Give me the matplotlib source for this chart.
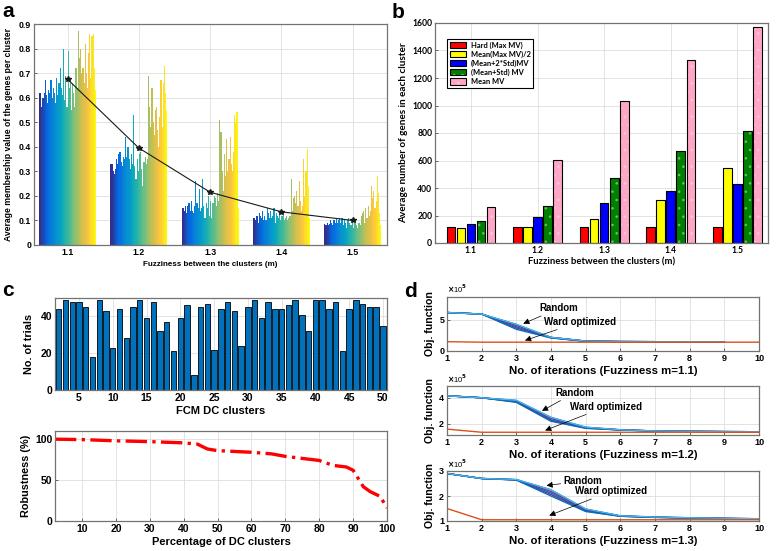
############################## IMPORTS ##############################
import matplotlib
matplotlib.use("Agg")
import matplotlib.pyplot as plt
import numpy as np
from matplotlib.colors import LinearSegmentedColormap
from matplotlib.legend_handler import HandlerTuple
################################ FIN ################################

############################# DATA SETUP #############################
## Panel a: average membership value per cluster (50 clusters per fuzziness)
fuzz = [1.1, 1.2, 1.3, 1.4, 1.5]
mv_11 = [0.62, 0.62, 0.56, 0.60, 0.62, 0.67, 0.61, 0.58, 0.63, 0.62,
         0.67, 0.60, 0.64, 0.62, 0.58, 0.68, 0.61, 0.66, 0.72, 0.64,
         0.61, 0.80, 0.59, 0.69, 0.56, 0.79, 0.64, 0.66, 0.55, 0.66,
         0.62, 0.56, 0.72, 0.64, 0.87, 0.76, 0.80, 0.70, 0.72, 0.66,
         0.82, 0.70, 0.64, 0.78, 0.86, 0.68, 0.85, 0.86, 0.72, 0.63]
mv_12 = [0.33, 0.33, 0.30, 0.29, 0.31, 0.35, 0.33, 0.37, 0.38, 0.34,
         0.32, 0.36, 0.35, 0.44, 0.36, 0.40, 0.35, 0.31, 0.37, 0.33,
         0.53, 0.32, 0.27, 0.35, 0.30, 0.37, 0.38, 0.31, 0.24, 0.34,
         0.36, 0.33, 0.35, 0.69, 0.56, 0.48, 0.64, 0.50, 0.45, 0.55,
         0.56, 0.47, 0.40, 0.52, 0.67, 0.48, 0.66, 0.73, 0.62, 0.55]
mv_13 = [0.15, 0.15, 0.14, 0.16, 0.13, 0.16, 0.17, 0.14, 0.18, 0.14,
         0.13, 0.16, 0.26, 0.17, 0.15, 0.23, 0.14, 0.15, 0.27, 0.16,
         0.11, 0.17, 0.15, 0.20, 0.12, 0.18, 0.11, 0.17, 0.20, 0.19,
         0.16, 0.21, 0.18, 0.51, 0.46, 0.30, 0.22, 0.37, 0.28, 0.43,
         0.30, 0.35, 0.44, 0.33, 0.30, 0.38, 0.53, 0.50, 0.54, 0.15]
mv_14 = [0.11, 0.11, 0.10, 0.12, 0.09, 0.13, 0.12, 0.11, 0.14, 0.10,
         0.12, 0.10, 0.15, 0.13, 0.11, 0.14, 0.11, 0.12, 0.15, 0.09,
         0.13, 0.12, 0.11, 0.14, 0.10, 0.12, 0.13, 0.10, 0.11, 0.12,
         0.10, 0.11, 0.12, 0.27, 0.14, 0.19, 0.20, 0.17, 0.22, 0.16,
         0.26, 0.18, 0.14, 0.16, 0.35, 0.20, 0.30, 0.39, 0.24, 0.11]
mv_15 = [0.085, 0.08, 0.09, 0.08, 0.085, 0.10, 0.09, 0.08, 0.10, 0.09,
         0.11, 0.09, 0.10, 0.11, 0.09, 0.11, 0.08, 0.10, 0.09, 0.07,
         0.10, 0.11, 0.09, 0.08, 0.10, 0.07, 0.09, 0.10, 0.08, 0.07,
         0.09, 0.08, 0.12, 0.13, 0.14, 0.09, 0.15, 0.11, 0.16, 0.12,
         0.14, 0.24, 0.19, 0.22, 0.15, 0.18, 0.28, 0.21, 0.13, 0.08]
mv_groups = [mv_11, mv_12, mv_13, mv_14, mv_15]
mv_mean = [0.675, 0.395, 0.215, 0.135, 0.10]

## Panel b: average number of genes in each cluster
b_ticks = ["1.1", "1.2", "1.3", "1.4", "1.5"]
b_names = ["Hard (Max MV)", "Mean(Max MV)/2", "(Mean+2*Std)MV", "(Mean+Std) MV", "Mean MV"]
hard_mv = [115, 115, 115, 115, 115]
half_max_mv = [110, 118, 175, 312, 548]
mean_2std_mv = [140, 192, 290, 380, 428]
mean_std_mv = [162, 268, 475, 672, 812]
mean_mv = [262, 603, 1035, 1330, 1568]
b_series = [hard_mv, half_max_mv, mean_2std_mv, mean_std_mv, mean_mv]

## Panel c: robustness of the FCM DC clusters
dc_clusters = list(range(2, 51))
trials = [44, 49, 48, 48, 45, 18, 49, 43, 23, 44, 28, 45, 49, 39, 48, 32, 37,
          21, 39, 46, 8, 45, 47, 22, 44, 48, 43, 24, 45, 49, 39, 48, 44, 44,
          46, 49, 41, 32, 49, 49, 44, 48, 21, 44, 49, 47, 45, 45, 35]
rob_pct = [2, 10, 20, 30, 40, 44, 47, 50, 60, 66, 70, 80, 84, 88, 90, 93, 95, 98, 100]
rob_val = [100, 99.5, 98, 97, 95.5, 94, 88, 86, 84, 82, 79, 74, 68, 66, 62, 42, 36, 30, 16]

## Panel d: objective function (x 1e5) per iteration
iters = [1, 2, 3, 4, 5, 6, 7, 8, 9, 10]
rand_11 = [[6.2, 5.95, 4.3, 2.2, 1.6, 1.52, 1.5, 1.49, 1.48],
           [6.2, 5.95, 4.1, 2.2, 1.6, 1.52, 1.5, 1.49, 1.48],
           [6.2, 5.95, 3.9, 2.15, 1.58, 1.52, 1.5, 1.49, 1.48],
           [6.2, 5.95, 3.7, 2.15, 1.58, 1.52, 1.5, 1.49, 1.48],
           [6.2, 5.95, 3.5, 2.1, 1.55, 1.52, 1.5, 1.49, 1.48]]
ward_11 = [1.5, 1.42, 1.42, 1.42, 1.42, 1.42, 1.42, 1.42, 1.42, 1.42]
rand_12 = [[4.15, 4.0, 3.8, 2.5, 1.75, 1.55, 1.46, 1.43, 1.41, 1.40],
           [4.15, 4.0, 3.75, 2.4, 1.72, 1.55, 1.46, 1.43, 1.41, 1.40],
           [4.15, 4.0, 3.72, 2.3, 1.7, 1.54, 1.46, 1.43, 1.41, 1.40],
           [4.15, 4.0, 3.68, 2.25, 1.68, 1.54, 1.45, 1.43, 1.41, 1.40],
           [4.15, 4.0, 3.65, 2.2, 1.66, 1.53, 1.45, 1.42, 1.41, 1.40]]
ward_12 = [1.6, 1.36, 1.36, 1.36, 1.36, 1.36, 1.36, 1.36, 1.36, 1.36]
rand_13 = [[2.9, 2.7, 2.66, 2.25, 1.48, 1.21, 1.16, 1.13, 1.11, 1.09],
           [2.9, 2.7, 2.65, 2.18, 1.45, 1.2, 1.15, 1.13, 1.11, 1.09],
           [2.9, 2.7, 2.65, 2.12, 1.42, 1.2, 1.15, 1.12, 1.1, 1.08],
           [2.9, 2.7, 2.64, 2.06, 1.4, 1.19, 1.15, 1.12, 1.1, 1.08],
           [2.9, 2.7, 2.64, 2.0, 1.38, 1.19, 1.14, 1.12, 1.09, 1.08]]
ward_13 = [1.5, 1.05, 1.05, 1.05, 1.05, 1.05, 1.05, 1.05, 1.05, 1.05]
################################ FIN ################################

############################ STYLE SETUP ############################
plt.rcParams["font.family"] = ["Liberation Sans", "DejaVu Sans"]
plt.rcParams["font.weight"] = "bold"
plt.rcParams["axes.labelweight"] = "bold"
plt.rcParams["hatch.linewidth"] = 0.6

# parula-like colormap (MATLAB default)
parula = LinearSegmentedColormap.from_list("parula", [
    (0.208, 0.166, 0.529), (0.02, 0.40, 0.88), (0.03, 0.53, 0.84),
    (0.02, 0.64, 0.77), (0.21, 0.72, 0.62), (0.51, 0.75, 0.47),
    (0.80, 0.75, 0.31), (0.99, 0.77, 0.24), (0.98, 0.98, 0.05)])
matlab_colors = [(0, 0.447, 0.741), (0.85, 0.325, 0.098), (0.929, 0.694, 0.125),
                 (0.494, 0.184, 0.556), (0.466, 0.674, 0.188), (0.301, 0.745, 0.933)]


def matlab_axes(ax, fsize):
    ax.grid(True, color="0.87", linewidth=0.6)
    ax.set_axisbelow(True)
    for s in ax.spines.values():
        s.set_color("0.45")
        s.set_linewidth(0.9)
    ax.tick_params(direction="in", length=2.5, width=0.6, color="0.3",
                   labelsize=fsize, pad=2, top=False, right=False)
    for t in ax.get_xticklabels() + ax.get_yticklabels():
        t.set_fontweight("bold")


fig = plt.figure(figsize=(7.77, 5.51), dpi=100)
W, H = 777.0, 551.0


def px_axes(left, top, right, bottom):
    return fig.add_axes([left / W, 1 - bottom / H, (right - left) / W, (bottom - top) / H])
################################ FIN ################################

############################## PANEL A ##############################
axA = px_axes(34, 24, 387, 245)
nbar = len(mv_11)
bw = 0.08 / nbar
cols = parula(np.linspace(0, 1, nbar))
for m, vals in zip(fuzz, mv_groups):
    xs = m - 0.04 + bw * (np.arange(nbar) + 0.5)
    axA.bar(xs, vals, width=bw * 1.02, color=cols, linewidth=0)
axA.plot(fuzz, mv_mean, color="0.1", linewidth=0.8, marker="*", markersize=4)
axA.set_xlim(1.053, 1.548)
axA.set_ylim(0, 0.9)
axA.set_xticks(fuzz)
axA.set_xticklabels(["1.1", "1.2", "1.3", "1.4", "1.5"])
yt = [0, 0.1, 0.2, 0.3, 0.4, 0.5, 0.6, 0.7, 0.8, 0.9]
axA.set_yticks(yt)
axA.set_yticklabels(["0" if v == 0 else "%.1f" % v for v in yt])
matlab_axes(axA, 6.3)
axA.set_xlabel("Fuzziness between the clusters (m)", fontsize=5.8, labelpad=3)
axA.set_ylabel("Average membership value of the genes per cluster", fontsize=6.2, labelpad=4)
################################ FIN ################################

############################## PANEL B ##############################
axB = px_axes(435, 23, 768, 243)
b_font = ["Lato", "DejaVu Sans"]
b_colors = [(1, 0, 0), (1, 1, 0), (0, 0, 1), (0, 0.5, 0), (1, 0.65, 0.78)]
b_dots = [None, None, None, (0.45, 0.72, 0.45), (0.97, 0.8, 0.88)]
xg = np.arange(1, 6)
handles = []
for i, (vals, c, d) in enumerate(zip(b_series, b_colors, b_dots)):
    xs = xg + (i - 2) * 0.151
    parts = [axB.bar(xs, vals, width=0.13, color=c, linewidth=0)[0]]
    if d is not None:
        parts.append(axB.bar(xs, vals, width=0.13, facecolor="none", edgecolor=d,
                             linewidth=0, hatch="..")[0])
    parts.append(axB.bar(xs, vals, width=0.13, facecolor="none", edgecolor="k",
                         linewidth=0.8)[0])
    handles.append(tuple(parts))
axB.set_xlim(0.46, 5.46)
axB.set_ylim(0, 1600)
axB.set_xticks(xg)
axB.set_xticklabels(b_ticks, family=b_font)
axB.set_yticks(range(0, 1601, 200))
axB.set_yticklabels([str(v) for v in range(0, 1601, 200)], family=b_font)
matlab_axes(axB, 6.2)
axB.set_xlabel("Fuzziness between the clusters (m)", fontsize=6.8, family=b_font, labelpad=2)
axB.set_ylabel("Average number of genes in each cluster", fontsize=7.2, family=b_font, labelpad=3)
leg = axB.legend(handles, b_names, loc="upper left", bbox_to_anchor=(0.025, 0.945),
                 prop={"family": b_font, "size": 5.4, "weight": "bold"},
                 handler_map={tuple: HandlerTuple(ndivide=1)},
                 frameon=True, fancybox=False, framealpha=1, borderpad=0.35,
                 labelspacing=0.25, handlelength=2.2, handleheight=0.9, handletextpad=0.6)
leg.get_frame().set_edgecolor("k")
leg.get_frame().set_linewidth(0.8)
################################ FIN ################################

############################## PANEL C ##############################
axC1 = px_axes(55, 298, 387, 390)
axC1.bar(dc_clusters, trials, width=0.8, color=(0, 0.447, 0.741), edgecolor="k", linewidth=0.6)
axC1.set_xlim(1.45, 50.6)
axC1.set_ylim(0, 50)
axC1.set_xticks(range(5, 51, 5))
axC1.set_yticks([0, 20, 40])
matlab_axes(axC1, 7.5)
axC1.set_xlabel("FCM DC clusters", fontsize=8, labelpad=2)
axC1.set_ylabel("No. of trials", fontsize=7.8, labelpad=5)

axC2 = px_axes(55, 431, 387, 521)
axC2.plot(rob_pct, rob_val, color="r", linestyle="-.", linewidth=2.4)
axC2.set_xlim(2, 100)
axC2.set_ylim(0, 110)
axC2.set_xticks(range(10, 101, 10))
axC2.set_yticks([0, 50, 100])
matlab_axes(axC2, 7.5)
axC2.set_xlabel("Percentage of DC clusters", fontsize=8, labelpad=2)
axC2.set_ylabel("Robustness (%)", fontsize=7.8, labelpad=3)
################################ FIN ################################

############################## PANEL D ##############################
d_panels = [
    (297, 351, rand_11, ward_11, (0, 8.7), [0, 5], "1.1",
     (3.67, 6.9), (3.2, 4.4), (3.8, 4.7), (3.25, 1.7)),
    (386, 435, rand_12, ward_12, (1.15, 4.9), [2, 4], "1.2",
     (4.12, 4.38), (3.74, 3.0), (4.55, 3.32), (3.83, 1.5)),
    (471, 521, rand_13, ward_13, (1.0, 2.93), [1, 2, 3], "1.3",
     (4.36, 2.6), (3.87, 2.42), (4.7, 2.19), (3.95, 1.22)),
]
for top, bot, runs, ward, ylim, yt, m, r_txt, r_tip, w_txt, w_tip in d_panels:
    ax = px_axes(447, top, 759, bot)
    for k, run in enumerate(runs):
        ax.plot(iters[:len(run)], run, color=matlab_colors[(k * 3) % 6], linewidth=1.0)
    ax.plot(iters[:len(runs[0])], runs[0], color=matlab_colors[5], linewidth=0.8)
    ax.plot(iters, ward, color=matlab_colors[1], linewidth=1.0)
    ax.set_xlim(1, 10)
    ax.set_ylim(*ylim)
    ax.set_xticks(iters)
    ax.set_yticks(yt)
    matlab_axes(ax, 6.5)
    ax.set_xlabel("No. of iterations (Fuzziness m=%s)" % m, fontsize=8.2, labelpad=2)
    ax.set_ylabel("Obj. function", fontsize=7.6, labelpad=3)
    ax.text(0.0, 1.03, r"$\times$10$^5$", transform=ax.transAxes, fontsize=5.5,
            fontweight="normal", va="bottom", ha="left")
    arrow = dict(arrowstyle="-|>", color="k", linewidth=0.5, mutation_scale=9,
                 shrinkA=0, shrinkB=0)
    ax.annotate("Random", xy=r_tip, xytext=r_txt, fontsize=7, va="center",
                arrowprops=arrow)
    ax.annotate("Ward optimized", xy=w_tip, xytext=w_txt, fontsize=7, va="center",
                arrowprops=arrow)
################################ FIN ################################

############################ PANEL LETTERS ############################
for letter, x, y in [("a", 2, 2), ("b", 392, 3), ("c", 2, 281), ("d", 404, 282)]:
    fig.text(x / W, 1 - y / H, letter, fontsize=15, fontweight="bold", va="top", ha="left")

fig.savefig("out.png", dpi=100)
